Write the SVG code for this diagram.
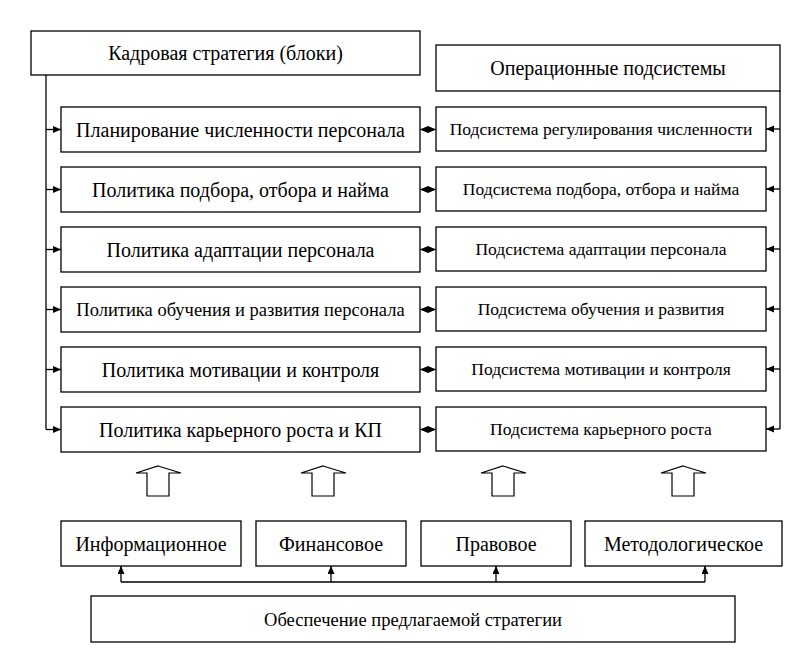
<svg xmlns="http://www.w3.org/2000/svg" width="803" height="658" viewBox="0 0 803 658">
<defs>
<marker id="ah" markerUnits="userSpaceOnUse" markerWidth="9" markerHeight="8" refX="8" refY="3.5" orient="auto-start-reverse">
<path d="M0,0 L8,3.5 L0,7 z" fill="#000"/>
</marker>
<style>
.b{fill:#fff;stroke:#000;stroke-width:1.3}
.c{fill:none;stroke:#000;stroke-width:1.3}
.ba{fill:#fff;stroke:#000;stroke-width:1.2}
</style>
</defs>
<rect width="803" height="658" fill="#fff"/>
<g id="connectors">
<path class="c" d="M46,75 V429.5"/>
<path class="c" d="M780,91 V429"/>
<path class="c" d="M46,129.5 H61" marker-end="url(#ah)"/>
<path class="c" d="M46,189.5 H61" marker-end="url(#ah)"/>
<path class="c" d="M46,249.5 H61" marker-end="url(#ah)"/>
<path class="c" d="M46,309.5 H61" marker-end="url(#ah)"/>
<path class="c" d="M46,369.5 H61" marker-end="url(#ah)"/>
<path class="c" d="M46,429.5 H61" marker-end="url(#ah)"/>
<path class="c" d="M780,129 H766" marker-end="url(#ah)"/>
<path class="c" d="M780,189 H766" marker-end="url(#ah)"/>
<path class="c" d="M780,249 H766" marker-end="url(#ah)"/>
<path class="c" d="M780,309 H766" marker-end="url(#ah)"/>
<path class="c" d="M780,369 H766" marker-end="url(#ah)"/>
<path class="c" d="M780,429 H766" marker-end="url(#ah)"/>
<path class="c" d="M420,129.5 H436" marker-start="url(#ah)" marker-end="url(#ah)"/>
<path class="c" d="M420,189.5 H436" marker-start="url(#ah)" marker-end="url(#ah)"/>
<path class="c" d="M420,249.5 H436" marker-start="url(#ah)" marker-end="url(#ah)"/>
<path class="c" d="M420,309.5 H436" marker-start="url(#ah)" marker-end="url(#ah)"/>
<path class="c" d="M420,369.5 H436" marker-start="url(#ah)" marker-end="url(#ah)"/>
<path class="c" d="M420,429.5 H436" marker-start="url(#ah)" marker-end="url(#ah)"/>
<path class="c" d="M121,582 H705"/>
<path class="c" d="M121,582 V566" marker-end="url(#ah)"/>
<path class="c" d="M331,582 V566" marker-end="url(#ah)"/>
<path class="c" d="M496,582 V566" marker-end="url(#ah)"/>
<path class="c" d="M705,582 V566" marker-end="url(#ah)"/>
<polygon class="ba" points="158,466 181,473 169,473 169,496 147,496 147,473 136,473"/>
<polygon class="ba" points="323,466 346,473 334,473 334,496 312,496 312,473 301,473"/>
<polygon class="ba" points="503,466 526,473 514,473 514,496 492,496 492,473 481,473"/>
<polygon class="ba" points="683,466 706,473 694,473 694,496 672,496 672,473 661,473"/>
</g>
<g font-family="Liberation Serif, Times New Roman, serif" text-anchor="middle" fill="#000">
<g id="strategy" font-size="20"><rect class="b" x="31" y="31" width="389" height="44"/><text x="225.5" y="59.5">Кадровая стратегия (блоки)</text></g>
<g id="subsystems" font-size="20"><rect class="b" x="436" y="45" width="344" height="46"/><text x="608" y="74.5">Операционные подсистемы</text></g>
<g id="l1" font-size="20"><rect class="b" x="61" y="107" width="359" height="45"/><text x="240.5" y="136.5">Планирование численности персонала</text></g>
<g id="l2" font-size="20"><rect class="b" x="61" y="167" width="359" height="45"/><text x="240.5" y="196.5">Политика подбора, отбора и найма</text></g>
<g id="l3" font-size="20"><rect class="b" x="61" y="227" width="359" height="45"/><text x="240.5" y="256.5">Политика адаптации персонала</text></g>
<g id="l4" font-size="18.5"><rect class="b" x="61" y="287" width="359" height="45"/><text x="240.5" y="316">Политика обучения и развития персонала</text></g>
<g id="l5" font-size="20"><rect class="b" x="61" y="347" width="359" height="45"/><text x="240.5" y="376.5">Политика мотивации и контроля</text></g>
<g id="l6" font-size="20"><rect class="b" x="61" y="407" width="359" height="45"/><text x="240.5" y="436.5">Политика карьерного роста и КП</text></g>
<g id="r1" font-size="17.5"><rect class="b" x="436" y="107" width="330" height="44"/><text x="601" y="135">Подсистема регулирования численности</text></g>
<g id="r2" font-size="17.5"><rect class="b" x="436" y="167" width="330" height="44"/><text x="601" y="195">Подсистема подбора, отбора и найма</text></g>
<g id="r3" font-size="17.5"><rect class="b" x="436" y="227" width="330" height="44"/><text x="601" y="255">Подсистема адаптации персонала</text></g>
<g id="r4" font-size="17.5"><rect class="b" x="436" y="287" width="330" height="44"/><text x="601" y="315">Подсистема обучения и развития</text></g>
<g id="r5" font-size="17.5"><rect class="b" x="436" y="347" width="330" height="44"/><text x="601" y="375">Подсистема мотивации и контроля</text></g>
<g id="r6" font-size="17.5"><rect class="b" x="436" y="407" width="330" height="44"/><text x="601" y="435">Подсистема карьерного роста</text></g>
<g id="info" font-size="20"><rect class="b" x="61" y="521" width="180" height="45"/><text x="151" y="550.5">Информационное</text></g>
<g id="fin" font-size="20"><rect class="b" x="256" y="521" width="150" height="45"/><text x="331" y="550.5">Финансовое</text></g>
<g id="legal" font-size="20"><rect class="b" x="421" y="521" width="150" height="45"/><text x="496" y="550.5">Правовое</text></g>
<g id="method" font-size="20"><rect class="b" x="585" y="521" width="197" height="45"/><text x="683.5" y="550.5">Методологическое</text></g>
<g id="support" font-size="18.5"><rect class="b" x="91" y="596" width="644" height="46"/><text x="413" y="625.5">Обеспечение предлагаемой стратегии</text></g>
</g>
</svg>
